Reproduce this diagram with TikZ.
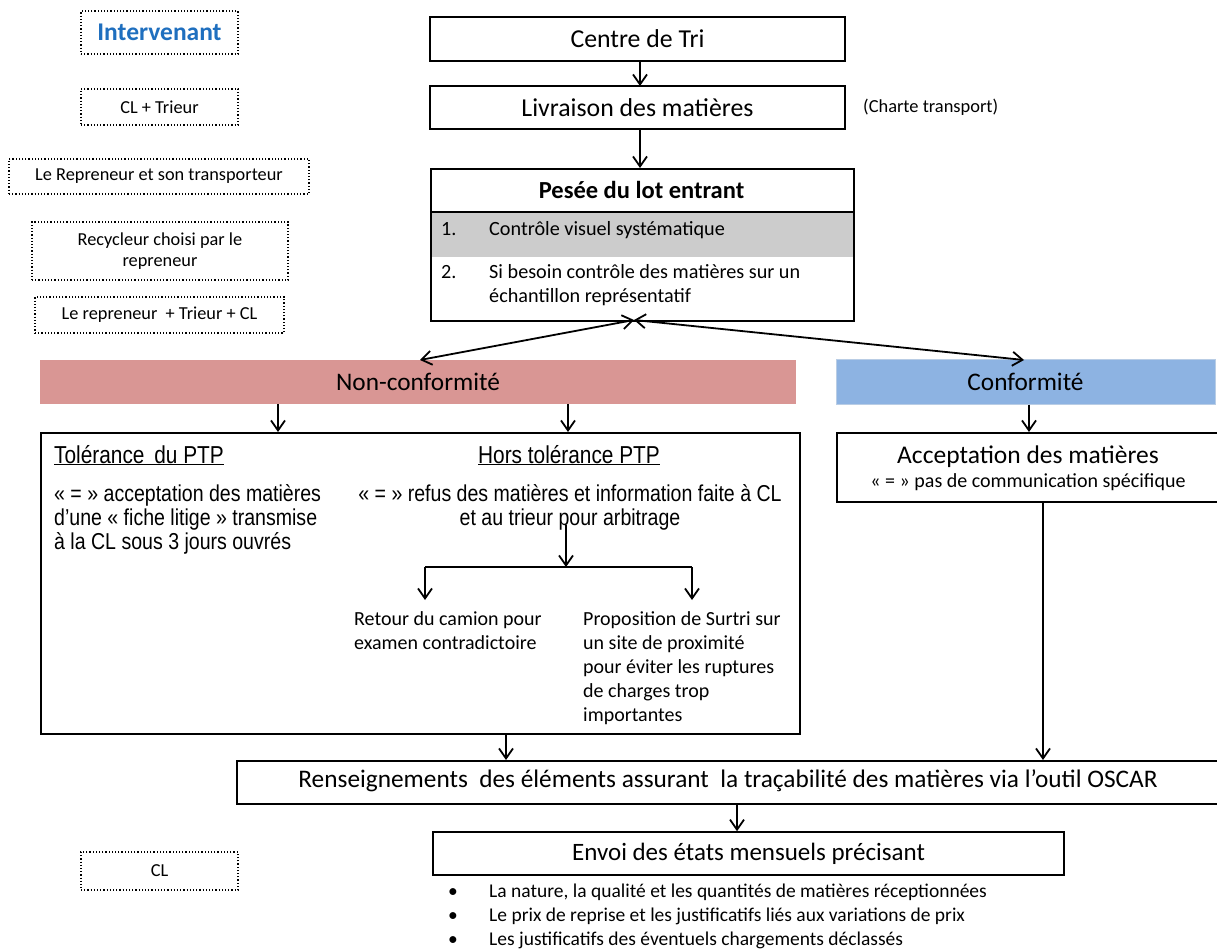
\documentclass[tikz,border=0pt]{standalone}
\usepackage{fontspec}
\setmainfont{Carlito}
\newfontfamily\narrowfont[FakeStretch=0.85]{Liberation Sans}
\usetikzlibrary{arrows.meta}
\definecolor{ncred}{HTML}{D99694}
\definecolor{cblue}{HTML}{8DB3E2}
\definecolor{cblueline}{HTML}{B9CDE5}
\definecolor{bandgray}{HTML}{CCCCCC}
\definecolor{intblue}{HTML}{1F6FBF}
\newcommand{\fs}[1]{\fontsize{#1pt}{#1pt}\selectfont}
\tikzset{
  x=1pt, y=-1pt,
  box/.style={draw=black, line width=1.6pt, inner sep=0pt, align=center},
  dotbox/.style={draw=black, dotted, line width=1.2pt, inner sep=0pt, align=center},
  arr/.style={-{Straight Barb[length=10pt,width=14pt,line width=1.8pt]}, line width=1.8pt},
  darr/.style={{Straight Barb[length=10pt,width=14pt,line width=1.8pt]}-{Straight Barb[length=10pt,width=14pt,line width=1.8pt]}, line width=1.8pt},
  pl/.style={line width=1.8pt},
  txt/.style={inner sep=0pt, anchor=base west},
  ctxt/.style={inner sep=0pt, anchor=base},
}
\begin{document}
\begin{tikzpicture}
\useasboundingbox (0,0) rectangle (1217,949);
\fill[white] (0,0) rectangle (1217,949);

% Intervenant column
\node[dotbox, minimum width=157pt, minimum height=43pt, font=\fs{25.5}\bfseries, text=intblue] (int) at (159.5,32.5) {Intervenant};
\node[dotbox, minimum width=157pt, minimum height=36pt, font=\fs{18.3}] (i1) at (159.5,107) {CL + Trieur};
\node[dotbox, minimum width=300pt, minimum height=35pt, font=\fs{18.3}] (i2) at (159,176.5) {Le Repreneur et son transporteur};
\node[dotbox, minimum width=256pt, minimum height=58pt, font=\fs{18.3}] (i3) at (160,251) {Recycleur choisi par le\\[2pt]repreneur};
\node[dotbox, minimum width=249pt, minimum height=36pt, font=\fs{18.3}] (i4) at (159.5,315) {Le repreneur\ \ + Trieur + CL};
\node[dotbox, minimum width=157pt, minimum height=38pt, font=\fs{18.3}] (i5) at (159.5,871) {CL};

% Top chain
\node[box, minimum width=415pt, minimum height=44pt, font=\fs{25.8}] (centre) at (637.5,39) {Centre de Tri};
\node[box, minimum width=415pt, minimum height=43pt, font=\fs{25.8}] (livr) at (637.5,107.5) {Livraison des matières};
\node[txt, anchor=west, font=\fs{18.4}] (charte) at (863,107) {(Charte transport)};

% Pesee box
\fill[bandgray] (430,212) rectangle (853,257);
\node[box, minimum width=423pt, minimum height=152pt, anchor=north west] (pesee) at (430,168) {};
\draw[line width=1.2pt] (430,212) -- (853,212);
\node[font=\fs{24.5}\bfseries] (peseeT) at (641.5,190) {Pesée du lot entrant};
\node[txt, font=\fs{20.2}] (p1n) at (441,236) {1.};
\node[txt, font=\fs{20.2}] (p1) at (489,236) {Contrôle visuel systématique};
\node[txt, font=\fs{20.2}] (p2n) at (441,279) {2.};
\node[txt, font=\fs{20.2}] (p2) at (489,279) {Si besoin contrôle des matières sur un};
\node[txt, font=\fs{20.2}] (p2b) at (489,303) {échantillon représentatif};

\draw[arr] (640,61) -- (640,86);
\draw[arr] (640,129) -- (640,168);

% Conformity bars
\node[fill=ncred, minimum width=756pt, minimum height=44pt, inner sep=0pt, font=\fs{25.3}] (nc) at (418,382) {Non-conformité};
\node[fill=cblue, draw=cblueline, line width=1pt, minimum width=379pt, minimum height=45pt, inner sep=0pt, font=\fs{25.3}] (conf) at (1025.5,381.5) {Conformité};

\coordinate (J) at (634,320);
\coordinate (ncA) at (420,360);
\coordinate (cA) at (1024,360);
\draw[darr] (J) -- (ncA);
\draw[darr] (J) -- (cA);

% Big non-conformity box
\node[box, minimum width=759pt, minimum height=301pt, anchor=north west] (big) at (40,432) {};
\draw[arr] (nc.south -| 278,0) -- (big.north -| 278,0);
\draw[arr] (nc.south -| 568,0) -- (big.north -| 568,0);

\node[txt, font=\narrowfont\fs{24.5}] (tolT) at (54,463) {\underline{Tolérance\ \,du PTP}};
\node[ctxt, font=\narrowfont\fs{24.5}] (horsT) at (569,463) {\underline{Hors tolérance PTP}};
\node[txt, font=\narrowfont\fs{23}] (tol1) at (54,501) {« = » acceptation des matières};
\node[txt, font=\narrowfont\fs{23}] (tol2) at (54,525) {d’une « fiche litige » transmise};
\node[txt, font=\narrowfont\fs{23}] (tol3) at (54,549) {à la CL sous 3 jours ouvrés};
\node[ctxt, font=\narrowfont\fs{23}] (hors1) at (570,501) {« = » refus des matières et information\ faite à CL};
\node[ctxt, font=\narrowfont\fs{23}] (hors2) at (570,525) {et au trieur pour arbitrage};

\coordinate (hs) at (566,525);
\coordinate (hb) at (566,567);
\coordinate (bl) at (425,567);
\coordinate (br) at (692,567);
\coordinate (blE) at (425,600);
\coordinate (brE) at (692,600);
\draw[arr] (hs) -- (hb);
\draw[pl] (bl) -- (br);
\draw[arr] (bl) -- (blE);
\draw[arr] (br) -- (brE);

\node[txt, font=\fs{20}] (r1) at (354,625) {Retour du camion pour};
\node[txt, font=\fs{20}] (r2) at (354,649) {examen contradictoire};
\node[txt, font=\fs{20}] (s1) at (583,625) {Proposition de Surtri sur};
\node[txt, font=\fs{20}] (s2) at (583,649) {un site de proximité};
\node[txt, font=\fs{20}] (s3) at (583,673) {pour éviter\ les ruptures};
\node[txt, font=\fs{20}] (s4) at (583,697) {de charges trop};
\node[txt, font=\fs{20}] (s5) at (583,721) {importantes};

% Acceptation
\node[box, minimum width=381pt, minimum height=69pt, anchor=north west] (acc) at (836,432) {};
\node[ctxt, font=\fs{25.5}] (accT) at (1028,463) {Acceptation des matières};
\node[ctxt, font=\fs{20}] (accS) at (1028,487) {« = » pas de communication spécifique};
\draw[arr] (conf.south -| 1029,0) -- (acc.north -| 1029,0);

% Renseignements
\node[box, minimum width=985pt, minimum height=43pt, anchor=north west] (rens) at (236,760) {};
\node[inner sep=0pt, font=\fs{25.3}] (rensT) at (728,781) {Renseignements\ \ des éléments\ assurant\ \ la traçabilité des matières via l’outil OSCAR};
\draw[arr] (big.south -| 506,0) -- (rens.north -| 506,0);
\draw[arr] (acc.south -| 1043,0) -- (rens.north -| 1043,0);

% Envoi
\node[box, minimum width=631pt, minimum height=43pt, font=\fs{25}] (envoi) at (748.5,853.5) {Envoi des états mensuels\ précisant};
\draw[arr] (rens.south -| 737,0) -- (envoi.north -| 737,0);

\node[txt, font=\fs{19.5}] (b1) at (448,897) {•};
\node[txt, font=\fs{19.5}] (b2) at (448,921) {•};
\node[txt, font=\fs{19.5}] (b3) at (448,945) {•};
\node[txt, font=\fs{19.5}] (t1) at (489,897) {La nature, la qualité et les quantités de matières réceptionnées};
\node[txt, font=\fs{19.5}] (t2) at (489,921) {Le prix de reprise et les justificatifs liés aux variations de prix};
\node[txt, font=\fs{19.5}] (t3) at (489,945) {Les justificatifs des éventuels chargements déclassés};
\end{tikzpicture}
\end{document}
